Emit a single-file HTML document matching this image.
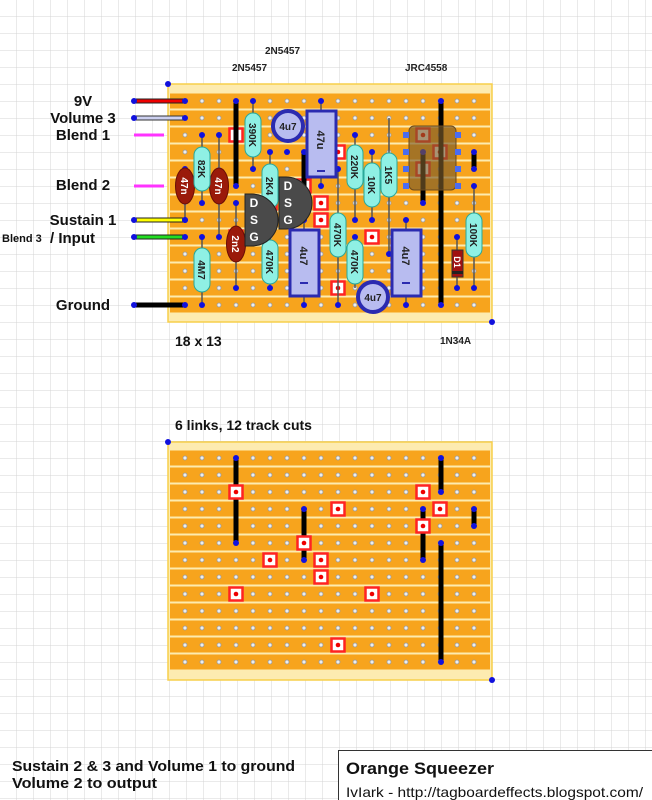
<!DOCTYPE html>
<html><head><meta charset="utf-8"><style>
html,body{margin:0;padding:0;background:#fff;}
svg{display:block;font-family:"Liberation Sans",sans-serif;}
</style></head><body>
<svg width="652" height="800" viewBox="0 0 652 800" xmlns="http://www.w3.org/2000/svg">
<defs>
<pattern id="grid" x="16" y="16" width="17" height="17" patternUnits="userSpaceOnUse">
<path d="M0 0H17M0 0V17" stroke="#d4d4d4" stroke-width="1" fill="none"/>
</pattern>
<pattern id="holes1" x="176.5" y="92.5" width="17" height="17" patternUnits="userSpaceOnUse">
<circle cx="8.5" cy="8.5" r="2" fill="#eee" stroke="#999" stroke-width="0.8"/>
</pattern>
<pattern id="holes2" x="176.5" y="449.5" width="17" height="17" patternUnits="userSpaceOnUse">
<circle cx="8.5" cy="8.5" r="2" fill="#eee" stroke="#999" stroke-width="0.8"/>
</pattern>
<g id="cut"><rect x="-6.5" y="-6.5" width="13" height="13" fill="#fff" stroke="#f22" stroke-width="2.5"/><circle r="2.3" fill="#e00"/></g>
</defs>
<rect width="652" height="800" fill="url(#grid)"/>

<g font-size="10" font-weight="bold" fill="#222">
<text x="265" y="54">2N5457</text>
<text x="232" y="71">2N5457</text>
<text x="405" y="71">JRC4558</text>
<text x="440" y="344" font-size="10">1N34A</text>
</g>
<text x="175" y="346" font-size="14" font-weight="bold" fill="#111">18 x 13</text>
<text x="175" y="430" font-size="14" font-weight="bold" fill="#111">6 links, 12 track cuts</text>

<g font-size="15" font-weight="bold" fill="#111" text-anchor="middle">
<text x="83" y="106">9V</text>
<text x="83" y="123">Volume 3</text>
<text x="83" y="140">Blend 1</text>
<text x="83" y="190">Blend 2</text>
<text x="83" y="225">Sustain 1</text>
<text x="83" y="310">Ground</text>
</g>
<text x="2" y="242" font-size="11" font-weight="bold" fill="#111">Blend 3</text>
<text x="50" y="243" font-size="15" font-weight="bold" fill="#111">/ Input</text>

<!-- TOP BOARD -->
<rect x="168" y="84" width="324" height="238" fill="#fdebb0" stroke="#f7cf4a" stroke-width="1.5"/>
<g fill="#f7a41d">
<rect x="170" y="93.5" width="320" height="15"/><rect x="170" y="110.5" width="320" height="15"/><rect x="170" y="127.5" width="320" height="15"/><rect x="170" y="144.5" width="320" height="15"/><rect x="170" y="161.5" width="320" height="15"/><rect x="170" y="178.5" width="320" height="15"/><rect x="170" y="195.5" width="320" height="15"/><rect x="170" y="212.5" width="320" height="15"/><rect x="170" y="229.5" width="320" height="15"/><rect x="170" y="246.5" width="320" height="15"/><rect x="170" y="263.5" width="320" height="15"/><rect x="170" y="280.5" width="320" height="15"/><rect x="170" y="297.5" width="320" height="15"/>
</g>
<rect x="177" y="93" width="306" height="221" fill="url(#holes1)"/>
<circle cx="168" cy="84" r="3" fill="#11d"/><circle cx="492" cy="322" r="3" fill="#11d"/>

<g stroke-width="5" stroke-linecap="butt">
<line x1="134" y1="101" x2="185" y2="101" stroke="#222"/><line x1="136" y1="101" x2="183" y2="101" stroke="#e00" stroke-width="3"/>
<line x1="134" y1="118" x2="185" y2="118" stroke="#333"/><line x1="136" y1="118" x2="183" y2="118" stroke="#ccd0f0" stroke-width="3"/>
<line x1="134" y1="220" x2="185" y2="220" stroke="#222"/><line x1="136" y1="220" x2="183" y2="220" stroke="#ff0" stroke-width="3"/>
<line x1="134" y1="237" x2="185" y2="237" stroke="#222"/><line x1="136" y1="237" x2="183" y2="237" stroke="#2d2" stroke-width="3"/>
<line x1="134" y1="305" x2="185" y2="305" stroke="#000"/>
</g>
<line x1="134" y1="135" x2="164" y2="135" stroke="#f3f" stroke-width="3"/>
<line x1="134" y1="186" x2="164" y2="186" stroke="#f3f" stroke-width="3"/>
<g fill="#11d"><circle cx="134" cy="101" r="3"/><circle cx="185" cy="101" r="3"/><circle cx="134" cy="118" r="3"/><circle cx="185" cy="118" r="3"/><circle cx="134" cy="220" r="3"/><circle cx="185" cy="220" r="3"/><circle cx="134" cy="237" r="3"/><circle cx="185" cy="237" r="3"/><circle cx="134" cy="305" r="3"/><circle cx="185" cy="305" r="3"/></g>

<use href="#cut" x="236" y="135"/><use href="#cut" x="423" y="135"/><use href="#cut" x="338" y="152"/><use href="#cut" x="440" y="152"/><use href="#cut" x="423" y="169"/><use href="#cut" x="304" y="186"/><use href="#cut" x="270" y="203"/><use href="#cut" x="321" y="203"/><use href="#cut" x="321" y="220"/><use href="#cut" x="236" y="237"/><use href="#cut" x="372" y="237"/><use href="#cut" x="338" y="288"/>

<g stroke="#000" stroke-width="5">
<line x1="236" y1="101" x2="236" y2="186"/>
<line x1="304" y1="152" x2="304" y2="203"/>
<line x1="441" y1="101" x2="441" y2="305"/>
<line x1="423" y1="152" x2="423" y2="203"/>
<line x1="474" y1="152" x2="474" y2="169"/>
</g>
<g fill="#11d"><circle cx="236" cy="101" r="3"/><circle cx="236" cy="186" r="3"/><circle cx="304" cy="152" r="3"/><circle cx="304" cy="203" r="3"/><circle cx="441" cy="101" r="3"/><circle cx="441" cy="305" r="3"/><circle cx="423" cy="152" r="3"/><circle cx="423" cy="203" r="3"/><circle cx="474" cy="152" r="3"/><circle cx="474" cy="169" r="3"/></g>

<g stroke="#555" stroke-width="1.5">
<line x1="253" y1="101" x2="253" y2="169"/>
<line x1="202" y1="135" x2="202" y2="203"/>
<line x1="219" y1="135" x2="219" y2="237"/>
<line x1="185" y1="169" x2="185" y2="220"/>
<line x1="270" y1="152" x2="270" y2="220"/>
<line x1="236" y1="203" x2="236" y2="288"/>
<line x1="202" y1="237" x2="202" y2="305"/>
<line x1="270" y1="237" x2="270" y2="288"/>
<line x1="321" y1="101" x2="321" y2="186"/>
<line x1="304" y1="220" x2="304" y2="305"/>
<line x1="338" y1="169" x2="338" y2="305"/>
<line x1="355" y1="135" x2="355" y2="220"/>
<line x1="355" y1="237" x2="355" y2="288"/>
<line x1="372" y1="152" x2="372" y2="220"/>
<line x1="389" y1="118" x2="389" y2="254"/>
<line x1="406" y1="220" x2="406" y2="305"/>
<line x1="457" y1="237" x2="457" y2="288"/>
<line x1="474" y1="186" x2="474" y2="288"/>
<line x1="287" y1="118" x2="287" y2="135"/>
<line x1="372" y1="288" x2="372" y2="305"/>
</g>
<g fill="#11d">
<circle cx="253" cy="101" r="3"/><circle cx="253" cy="169" r="3"/><circle cx="202" cy="135" r="3"/><circle cx="202" cy="203" r="3"/><circle cx="219" cy="135" r="3"/><circle cx="219" cy="237" r="3"/><circle cx="270" cy="152" r="3"/><circle cx="236" cy="203" r="3"/><circle cx="236" cy="288" r="3"/><circle cx="202" cy="237" r="3"/><circle cx="202" cy="305" r="3"/><circle cx="270" cy="288" r="3"/><circle cx="321" cy="101" r="3"/><circle cx="321" cy="186" r="3"/><circle cx="304" cy="220" r="3"/><circle cx="304" cy="305" r="3"/><circle cx="338" cy="169" r="3"/><circle cx="338" cy="305" r="3"/><circle cx="355" cy="135" r="3"/><circle cx="355" cy="220" r="3"/><circle cx="372" cy="152" r="3"/><circle cx="372" cy="220" r="3"/><circle cx="389" cy="254" r="3"/><circle cx="406" cy="220" r="3"/><circle cx="406" cy="305" r="3"/><circle cx="457" cy="237" r="3"/><circle cx="457" cy="288" r="3"/><circle cx="474" cy="186" r="3"/><circle cx="474" cy="288" r="3"/><circle cx="287" cy="118" r="3"/><circle cx="287" cy="152" r="3"/><circle cx="355" cy="237" r="3"/><circle cx="185" cy="169" r="3"/><circle cx="185" cy="220" r="3"/>
</g>

<g fill="#9a1a0a" stroke="#6a0d05">
<ellipse cx="185" cy="186" rx="9.5" ry="18"/>
<ellipse cx="219" cy="186" rx="9.5" ry="18"/>
<ellipse cx="236" cy="244" rx="9.5" ry="18"/>
</g>
<g fill="#fff" font-size="10" font-weight="bold" text-anchor="middle">
<text transform="translate(185,186) rotate(90)" y="4">47n</text>
<text transform="translate(219,186) rotate(90)" y="4">47n</text>
<text transform="translate(236,244) rotate(90)" y="4">2n2</text>
</g>

<g fill="#8ff0e4" stroke="#2aa89a" stroke-width="1">
<rect x="245" y="113" width="16" height="44" rx="8"/>
<rect x="194" y="147" width="16" height="44" rx="8"/>
<rect x="262" y="164" width="16" height="44" rx="8"/>
<rect x="194" y="248" width="16" height="44" rx="8"/>
<rect x="262" y="240" width="16" height="44" rx="8"/>
<rect x="347" y="145" width="16" height="44" rx="8"/>
<rect x="364" y="163" width="16" height="44" rx="8"/>
<rect x="381" y="153" width="16" height="44" rx="8"/>
<rect x="330" y="213" width="16" height="44" rx="8"/>
<rect x="347" y="240" width="16" height="44" rx="8"/>
<rect x="466" y="213" width="16" height="44" rx="8"/>
</g>
<g fill="#222" font-size="10" font-weight="bold" text-anchor="middle">
<text transform="translate(253,135) rotate(90)" y="4">390K</text>
<text transform="translate(202,169) rotate(90)" y="4">82K</text>
<text transform="translate(270,186) rotate(90)" y="4">2K4</text>
<text transform="translate(202,270) rotate(90)" y="4">4M7</text>
<text transform="translate(270,262) rotate(90)" y="4">470K</text>
<text transform="translate(355,167) rotate(90)" y="4">220K</text>
<text transform="translate(372,185) rotate(90)" y="4">10K</text>
<text transform="translate(389,175) rotate(90)" y="4">1K5</text>
<text transform="translate(338,235) rotate(90)" y="4">470K</text>
<text transform="translate(355,262) rotate(90)" y="4">470K</text>
<text transform="translate(474,235) rotate(90)" y="4">100K</text>
</g>

<path d="M245 194 H252 A26 26 0 0 1 252 246 H245 Z" fill="#4a4a4a" stroke="#222"/>
<path d="M279 177 H286 A26 26 0 0 1 286 229 H279 Z" fill="#4a4a4a" stroke="#222"/>
<g fill="#fff" font-size="12" font-weight="bold" text-anchor="middle">
<text x="254" y="207">D</text><text x="254" y="224">S</text><text x="254" y="241">G</text>
<text x="288" y="190">D</text><text x="288" y="207">S</text><text x="288" y="224">G</text>
</g>

<rect x="307" y="111" width="29" height="66" fill="#b8bcf0" stroke="#2b2bb0" stroke-width="3"/>
<line x1="317" y1="171" x2="325" y2="171" stroke="#2b2bb0" stroke-width="2"/>
<text transform="translate(321,140) rotate(90)" y="4" font-size="11" font-weight="bold" fill="#222" text-anchor="middle">47u</text>
<rect x="290" y="230" width="29" height="66" fill="#b8bcf0" stroke="#2b2bb0" stroke-width="3"/>
<line x1="300" y1="283" x2="308" y2="283" stroke="#2b2bb0" stroke-width="2"/>
<text transform="translate(304,256) rotate(90)" y="4" font-size="11" font-weight="bold" fill="#222" text-anchor="middle">4u7</text>
<rect x="392" y="230" width="29" height="66" fill="#b8bcf0" stroke="#2b2bb0" stroke-width="3"/>
<line x1="402" y1="283" x2="410" y2="283" stroke="#2b2bb0" stroke-width="2"/>
<text transform="translate(406,256) rotate(90)" y="4" font-size="11" font-weight="bold" fill="#222" text-anchor="middle">4u7</text>
<circle cx="288" cy="126" r="15" fill="#b8bcf0" stroke="#2b2bb0" stroke-width="4"/>
<text x="288" y="130" font-size="10" font-weight="bold" fill="#222" text-anchor="middle">4u7</text>
<circle cx="373" cy="297" r="15" fill="#b8bcf0" stroke="#2b2bb0" stroke-width="4"/>
<text x="373" y="301" font-size="10" font-weight="bold" fill="#222" text-anchor="middle">4u7</text>

<rect x="409" y="126" width="47" height="64" rx="5" fill="#7a5a2a" fill-opacity="0.65" stroke="#6a4a20"/>
<g fill="#4a6cf0"><rect x="403" y="132" width="6" height="6"/><rect x="403" y="149" width="6" height="6"/><rect x="403" y="166" width="6" height="6"/><rect x="403" y="183" width="6" height="6"/><rect x="455" y="132" width="6" height="6"/><rect x="455" y="149" width="6" height="6"/><rect x="455" y="166" width="6" height="6"/><rect x="455" y="183" width="6" height="6"/></g>

<rect x="452" y="250" width="11" height="27" fill="#a01010" stroke="#333"/>
<rect x="452" y="271" width="11" height="3" fill="#222"/>
<text transform="translate(457,262) rotate(90)" y="3" font-size="9" font-weight="bold" fill="#fff" text-anchor="middle">D1</text>

<!-- BOTTOM BOARD -->
<rect x="168" y="442" width="324" height="238" fill="#fdebb0" stroke="#f7cf4a" stroke-width="1.5"/>
<g fill="#f7a41d">
<rect x="170" y="450.5" width="320" height="15"/><rect x="170" y="467.5" width="320" height="15"/><rect x="170" y="484.5" width="320" height="15"/><rect x="170" y="501.5" width="320" height="15"/><rect x="170" y="518.5" width="320" height="15"/><rect x="170" y="535.5" width="320" height="15"/><rect x="170" y="552.5" width="320" height="15"/><rect x="170" y="569.5" width="320" height="15"/><rect x="170" y="586.5" width="320" height="15"/><rect x="170" y="603.5" width="320" height="15"/><rect x="170" y="620.5" width="320" height="15"/><rect x="170" y="637.5" width="320" height="15"/><rect x="170" y="654.5" width="320" height="15"/>
</g>
<rect x="177" y="450" width="306" height="221" fill="url(#holes2)"/>
<circle cx="168" cy="442" r="3" fill="#11d"/><circle cx="492" cy="680" r="3" fill="#11d"/>
<g stroke="#000" stroke-width="5">
<line x1="236" y1="458" x2="236" y2="543"/>
<line x1="304" y1="509" x2="304" y2="560"/>
<line x1="441" y1="458" x2="441" y2="492"/>
<line x1="423" y1="509" x2="423" y2="560"/>
<line x1="474" y1="509" x2="474" y2="526"/>
<line x1="441" y1="543" x2="441" y2="662"/>
</g>
<g fill="#11d"><circle cx="236" cy="458" r="3"/><circle cx="236" cy="543" r="3"/><circle cx="304" cy="509" r="3"/><circle cx="304" cy="560" r="3"/><circle cx="441" cy="458" r="3"/><circle cx="441" cy="492" r="3"/><circle cx="423" cy="509" r="3"/><circle cx="423" cy="560" r="3"/><circle cx="474" cy="509" r="3"/><circle cx="474" cy="526" r="3"/><circle cx="441" cy="543" r="3"/><circle cx="441" cy="662" r="3"/></g>
<use href="#cut" x="236" y="492"/><use href="#cut" x="423" y="492"/><use href="#cut" x="338" y="509"/><use href="#cut" x="440" y="509"/><use href="#cut" x="423" y="526"/><use href="#cut" x="304" y="543"/><use href="#cut" x="270" y="560"/><use href="#cut" x="321" y="560"/><use href="#cut" x="321" y="577"/><use href="#cut" x="236" y="594"/><use href="#cut" x="372" y="594"/><use href="#cut" x="338" y="645"/>

<!-- footer -->
<text x="12" y="771" font-size="15" font-weight="bold" fill="#111" textLength="283" lengthAdjust="spacingAndGlyphs">Sustain 2 &amp; 3 and Volume 1 to ground</text>
<text x="12" y="788" font-size="15" font-weight="bold" fill="#111" textLength="145" lengthAdjust="spacingAndGlyphs">Volume 2 to output</text>
<rect x="338.5" y="750.5" width="320" height="60" fill="#fff" stroke="#333"/>
<text x="346" y="774" font-size="17" font-weight="bold" fill="#111" textLength="148" lengthAdjust="spacingAndGlyphs">Orange Squeezer</text>
<text x="346" y="797" font-size="14" fill="#111" textLength="297" lengthAdjust="spacingAndGlyphs">IvIark - http://tagboardeffects.blogspot.com/</text>
</svg>
</body></html>
